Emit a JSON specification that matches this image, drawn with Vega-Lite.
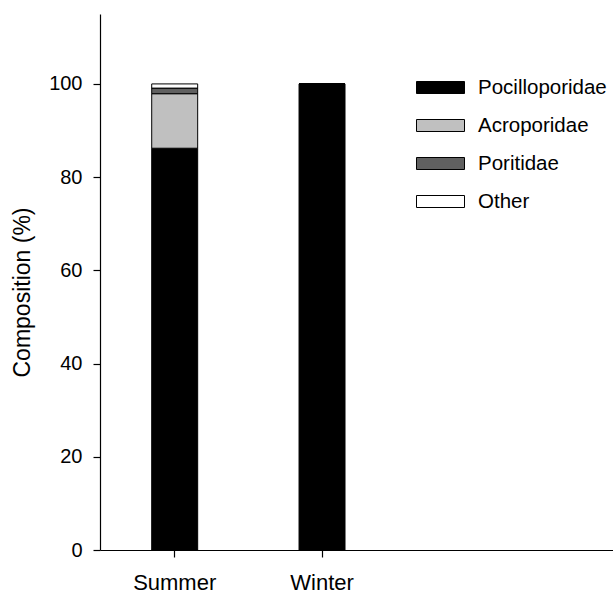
{
  "$schema": "https://vega.github.io/schema/vega-lite/v6.json",
  "width": 513,
  "height": 536,
  "autosize": {"type": "none"},
  "padding": {"left": 100, "top": 14, "right": 0, "bottom": 43},
  "background": "white",
  "config": {
    "view": {"stroke": null},
    "font": "Liberation Sans",
    "axis": {"grid": false, "domainColor": "black", "tickColor": "black", "labelColor": "black", "titleColor": "black", "labelFont": "Liberation Sans", "titleFont": "Liberation Sans", "titleFontWeight": "normal", "domainWidth": 1.2, "tickWidth": 1.2}
  },
  "data": {
    "values": [
      {"season": "Summer", "family": "Pocilloporidae", "k": 1, "pct": 86.2},
      {"season": "Summer", "family": "Acroporidae", "k": 2, "pct": 11.7},
      {"season": "Summer", "family": "Poritidae", "k": 3, "pct": 1.2},
      {"season": "Summer", "family": "Other", "k": 4, "pct": 0.9},
      {"season": "Winter", "family": "Pocilloporidae", "k": 1, "pct": 100},
      {"season": "Winter", "family": "Acroporidae", "k": 2, "pct": 0},
      {"season": "Winter", "family": "Poritidae", "k": 3, "pct": 0},
      {"season": "Winter", "family": "Other", "k": 4, "pct": 0}
    ]
  },
  "mark": {"type": "bar", "stroke": "black", "strokeWidth": 1},
  "encoding": {
    "x": {
      "field": "season",
      "type": "nominal",
      "scale": {"domain": ["Summer", "Winter", " "], "paddingInner": 0.688, "paddingOuter": 0.585, "align": 0.3, "round": false},
      "axis": {"title": null, "values": ["Summer", "Winter"], "labelAngle": 0, "labelFontSize": 22, "tickSize": 7, "labelBaseline": "alphabetic", "labelPadding": 32}
    },
    "y": {
      "field": "pct",
      "type": "quantitative",
      "stack": "zero",
      "scale": {"domain": [0, 115], "nice": false},
      "axis": {"title": "Composition (%)", "values": [0, 20, 40, 60, 80, 100], "labelFontSize": 20, "tickSize": 7, "labelPadding": 11, "titleFontSize": 23, "titleX": -78, "titleY": 278, "titleAngle": -90, "titleAlign": "center", "titleBaseline": "middle"}
    },
    "color": {
      "field": "family",
      "type": "nominal",
      "scale": {"domain": ["Pocilloporidae", "Acroporidae", "Poritidae", "Other"], "range": ["#000000", "#c0c0c0", "#606060", "#ffffff"]},
      "legend": {
        "title": null,
        "orient": "none",
        "legendX": 328,
        "legendY": 61,
        "symbolType": "M-2,-0.5H2V0.5H-2Z",
        "symbolSize": 576,
        "symbolStrokeColor": "black",
        "symbolStrokeWidth": 1,
        "symbolOpacity": 1,
        "labelFontSize": 20.5,
        "labelColor": "black",
        "labelFont": "Liberation Sans",
        "labelOffset": 25,
        "rowPadding": 15,
        "labelLimit": 300
      }
    },
    "order": {"field": "k", "type": "quantitative", "sort": "ascending"}
  }
}
